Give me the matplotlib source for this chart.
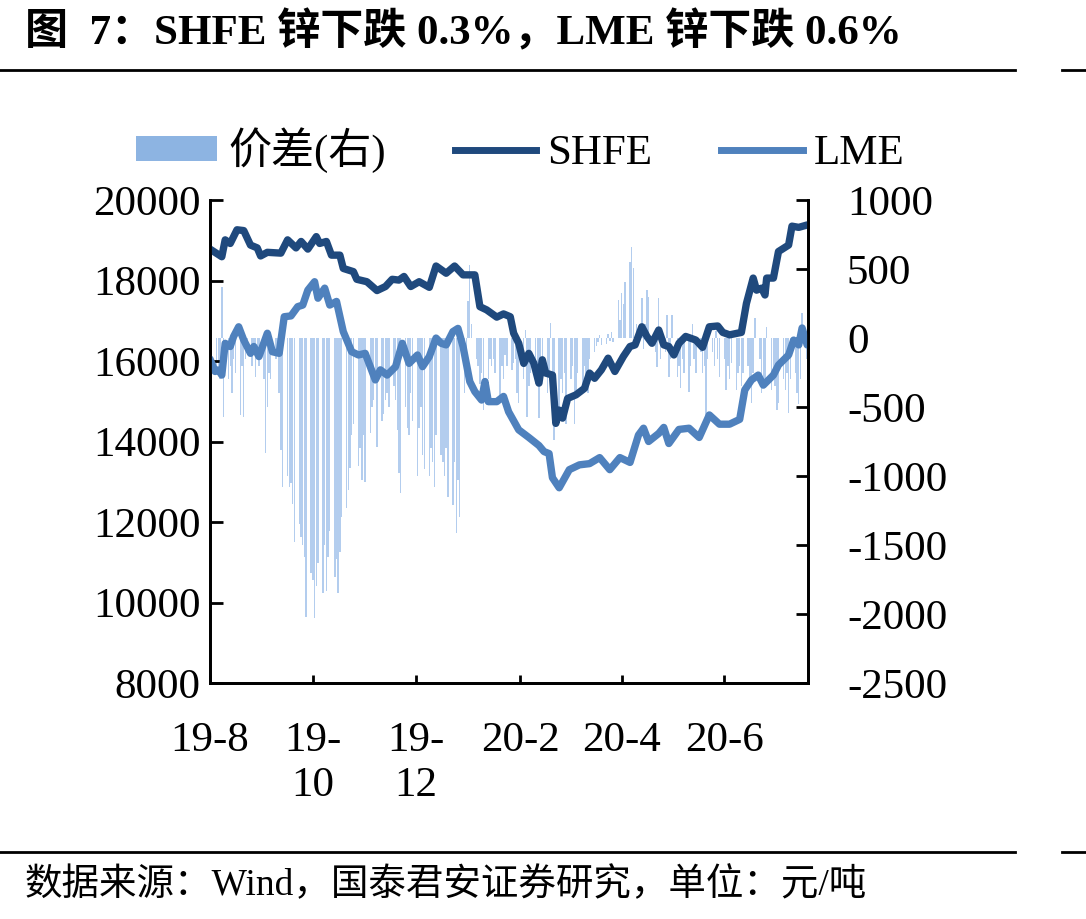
import matplotlib
matplotlib.use('Agg')
import matplotlib.pyplot as plt
import pandas as pd
from matplotlib.patches import Patch
from matplotlib.lines import Line2D

# SHFE zinc (left axis)
shfe_dates = ['2019-08-01', '2019-08-08', '2019-08-10', '2019-08-13', '2019-08-17', '2019-08-21', '2019-08-25',
              '2019-08-29', '2019-08-31', '2019-09-04', '2019-09-12', '2019-09-16', '2019-09-21', '2019-09-24',
              '2019-09-28', '2019-10-03', '2019-10-05', '2019-10-09', '2019-10-12', '2019-10-17', '2019-10-19',
              '2019-10-25', '2019-10-27', '2019-11-02', '2019-11-08', '2019-11-13', '2019-11-17', '2019-11-21',
              '2019-11-24', '2019-11-28', '2019-12-03', '2019-12-09', '2019-12-13', '2019-12-19', '2019-12-24',
              '2019-12-29', '2020-01-05', '2020-01-08', '2020-01-12', '2020-01-18', '2020-01-22', '2020-01-26',
              '2020-01-28', '2020-01-31', '2020-02-03', '2020-02-06', '2020-02-09', '2020-02-12', '2020-02-14',
              '2020-02-16', '2020-02-20', '2020-02-22', '2020-02-24', '2020-02-26', '2020-02-29', '2020-03-05',
              '2020-03-10', '2020-03-13', '2020-03-16', '2020-03-20', '2020-03-24', '2020-03-28', '2020-04-02',
              '2020-04-06', '2020-04-09', '2020-04-13', '2020-04-16', '2020-04-19', '2020-04-23', '2020-04-26',
              '2020-04-29', '2020-05-02', '2020-05-05', '2020-05-09', '2020-05-15', '2020-05-19', '2020-05-23',
              '2020-05-28', '2020-05-31', '2020-06-04', '2020-06-11', '2020-06-14', '2020-06-18', '2020-06-20',
              '2020-06-23', '2020-06-25', '2020-06-26', '2020-06-30', '2020-07-03', '2020-07-09', '2020-07-11',
              '2020-07-15', '2020-07-20']
shfe = [18780, 18590, 19010, 18920, 19260, 19240, 18880, 18810, 18610,
        18700, 18680, 19010, 18810, 18970, 18780,
        19090, 18920, 18970, 18630, 18630, 18300, 18220, 18030,
        17970, 17750, 17850, 18030, 18010, 18100, 17850,
        17970, 17830, 18360, 18180, 18360, 18140,
        18140, 17350, 17270, 17090, 17170, 17100, 16690, 16440,
        15940, 16190, 15940, 15450, 16030, 15700, 15650, 14450, 14780, 14580, 15070,
        15160, 15320, 15700, 15570, 15780, 16070, 15740,
        16110, 16360, 16400, 16850, 16610, 16440, 16770, 16400, 16360,
        16150, 16440, 16610, 16520, 16340, 16850, 16870, 16710,
        16650, 16710, 17430, 18060, 17760, 17810, 17640, 18060, 18060,
        18720, 18880, 19350, 19320, 19380]

# LME zinc (left axis)
lme_dates = ['2019-08-01', '2019-08-04', '2019-08-06', '2019-08-08', '2019-08-10', '2019-08-13', '2019-08-15',
             '2019-08-18', '2019-08-21', '2019-08-25', '2019-08-27', '2019-08-30',
             '2019-09-04', '2019-09-07', '2019-09-11', '2019-09-14', '2019-09-18', '2019-09-22', '2019-09-25',
             '2019-09-28',
             '2019-10-02', '2019-10-04', '2019-10-08', '2019-10-11', '2019-10-15', '2019-10-19', '2019-10-24',
             '2019-10-28',
             '2019-11-01', '2019-11-07', '2019-11-10', '2019-11-14', '2019-11-19', '2019-11-23', '2019-11-27',
             '2019-12-02', '2019-12-05', '2019-12-09', '2019-12-13', '2019-12-16', '2019-12-19', '2019-12-23',
             '2019-12-26', '2019-12-29',
             '2020-01-02', '2020-01-05', '2020-01-09', '2020-01-11', '2020-01-13', '2020-01-18', '2020-01-22',
             '2020-01-25', '2020-01-31',
             '2020-02-06', '2020-02-12', '2020-02-15', '2020-02-18', '2020-02-20', '2020-02-24',
             '2020-03-01', '2020-03-07', '2020-03-13', '2020-03-19', '2020-03-25', '2020-03-31',
             '2020-04-06', '2020-04-11', '2020-04-14', '2020-04-17', '2020-04-23', '2020-04-26', '2020-04-29',
             '2020-05-05', '2020-05-11', '2020-05-17', '2020-05-23', '2020-05-29',
             '2020-06-04', '2020-06-10', '2020-06-13', '2020-06-17', '2020-06-21', '2020-06-24', '2020-06-30',
             '2020-07-03', '2020-07-09', '2020-07-12', '2020-07-15', '2020-07-17', '2020-07-20']
lme = [16050, 15740, 15780, 15650, 16440, 16360, 16610, 16850, 16520, 16190, 16360, 16110,
       16690, 16230, 16190, 17100, 17120, 17350, 17390, 17760,
       17970, 17560, 17810, 17390, 17480, 16730, 16230, 16150,
       16190, 15530, 15780, 15650, 15860, 16440, 15940,
       16150, 15860, 16110, 16570, 16440, 16400, 16730, 16810, 16360,
       15490, 15240, 15030, 15490, 14990, 14990, 15120, 14740, 14290,
       14100, 13900, 13750, 13700, 13100, 12850,
       13300, 13420, 13450, 13600, 13300, 13600,
       13480, 14160, 14330, 14000, 14200, 14350, 13950,
       14300, 14330, 14100, 14660, 14430,
       14430, 14550, 15280, 15530, 15650, 15400, 15650,
       15900, 16150, 16520, 16400, 16820, 16400]

# daily spread (right axis), business days 2019-08-01 .. 2020-07-20
spread = ([-150, 370, -250, -200, -300, 370, -575, -300, -200, -400, -150, -250, -560, -200, -570, -150,
           -100, -200, -100, -280, -150, -200] +                                   # 2019-08
          [-300, -830, -500, -250, -300, -150, -100, -400, -810, -1080, -1000, -1080, -1050, -1200, -1480,
           -1350, -1440, -1500, -1590, -2020, -1700] +                             # 2019-09
          [-1750, -2030, -1800, -1630, -1850, -1500, -1830, -1590, -1400, -1730, -1600, -1850, -1550,
           -1300, -1230, -1100, -940, -700, -620, -930, -800, -1030, -700] +        # 2019-10
          [-1040, -690, -500, -450, -300, -790, -600, -550, -450, -400, -500, -350, -450, -670, -980,
           -1120, -500, -650, -700, -400, -600] +                                  # 2019-11
          [-1000, -650, -500, -850, -950, -1000, -800, -900, -1080, -700, -850, -900, -1000, -800, -1150,
           -1210, -900, -1410, -1030, -1300, -400, -100] +                         # 2019-12
          [270, 530, 100, -150, -200, -330, -250, -520, -300, -150, -200, -150, -250, -430, -200, -300,
           -120, -200, -230, -180, -150, -400, -470] +                             # 2020-01
          [-300, 60, -570, -350, -250, -330, -250, -580, -300, -200, -400, -250, 110, -480, -740, -500,
           -300, -400, -250, -620] +                                               # 2020-02
          [-300, -200, -620, -400, -250, -350, -200, -280, -400, -150, -100, -60, -30, 20, -50, -40, 30,
           -20, 40, -30, 275, 130] +                                               # 2020-03
          [325, 250, 405, 550, 660, 510, -50, 100, 290, -80, 100, 350, 300, -50, -100, -210, 290, -150,
           -100, 170, -280, -150] +                                                # 2020-04
          [170, -280, -200, -360, -150, -250, -390, -200, 100, -150, -250, -100, -250, -200, -570, -150,
           -100, -200, 50, -150, -280] +                                           # 2020-05
          [-150, -380, -200, -300, -180, -380, -250, -200, -350, -250, -200, -300, -470, -250, 145, -150,
           -400, -300, -350, 80, -380, -250] +                                     # 2020-06
          [-350, -520, -470, -300, -380, -250, -540, -300, -250, -400, -480, -300, 180, -150])  # 2020-07

tick_dates = ['2019-08-01', '2019-10-01', '2019-12-01', '2020-02-01', '2020-04-01', '2020-06-01']
tick_labels = ['19-8', '19-\n10', '19-\n12', '20-2', '20-4', '20-6']

plt.rcParams['font.family'] = ['Liberation Serif', 'Noto Sans CJK SC']
plt.rcParams['axes.unicode_minus'] = False

W, H = 1086, 919
fig = plt.figure(figsize=(W / 100, H / 100), dpi=100)
ax = fig.add_axes([210 / W, 1 - 683 / H, 598 / W, 483 / H])
ax2 = ax.twinx()

bar_dates = pd.bdate_range('2019-08-01', '2020-07-20')
ax2.bar(bar_dates, spread, width=0.85, color='#b3cdee', linewidth=0)

ax.plot(pd.to_datetime(shfe_dates), shfe, color='#1f497d', lw=5.3, solid_joinstyle='round', solid_capstyle='round')
ax.plot(pd.to_datetime(lme_dates), lme, color='#4f81bd', lw=5.3, solid_joinstyle='round', solid_capstyle='round')

ax.set_zorder(ax2.get_zorder() + 1)
ax.patch.set_visible(False)

ax.set_xlim(pd.Timestamp('2019-08-01'), pd.Timestamp('2020-07-20 12:00'))
ax.set_ylim(8000, 20000)
ax.set_yticks(range(8000, 20001, 2000))
ax2.set_ylim(-2500, 1000)
ax2.set_yticks(range(-2500, 1001, 500))

ax.set_xticks(pd.to_datetime(tick_dates))
ax.set_xticklabels(tick_labels, linespacing=1.2)

for a in (ax, ax2):
    a.spines['top'].set_visible(False)
    for s in ('left', 'right', 'bottom'):
        a.spines[s].set_linewidth(2)
ax.tick_params(axis='y', direction='in', length=9, width=2, labelsize=31, pad=7)
ax.tick_params(axis='x', direction='in', length=6, width=2, labelsize=31, pad=28)
ax2.tick_params(axis='y', direction='in', length=9, width=2, labelsize=31, pad=28)
for lab in ax2.get_yticklabels():
    lab.set_horizontalalignment('left')

handles = [Patch(facecolor='#8db4e2', edgecolor='none'),
           Line2D([], [], color='#1f497d', lw=5),
           Line2D([], [], color='#4f81bd', lw=5)]
fig.legend(handles, ['价差(右)', 'SHFE', 'LME'], loc='center', bbox_to_anchor=(520 / W, 1 - 150 / H),
           ncol=3, frameon=False, fontsize=31, handlelength=1.9, handleheight=0.5,
           handletextpad=0.25, columnspacing=1.6)

fig.text(25 / W, 1 - 32 / H, '图  7：SHFE 锌下跌 0.3%，LME 锌下跌 0.6%', fontsize=31,
         fontweight='bold', va='center', ha='left')
fig.text(25 / W, 1 - 885 / H, '数据来源：Wind，国泰君安证券研究，单位：元/吨', fontsize=27,
         va='center', ha='left')

for yy in (70, 852):
    fig.add_artist(Line2D([0, 1015 / W], [1 - yy / H] * 2, color='black', lw=2))
    fig.add_artist(Line2D([1062 / W, 1], [1 - yy / H] * 2, color='black', lw=2))

fig.savefig('out.png', dpi=100)
